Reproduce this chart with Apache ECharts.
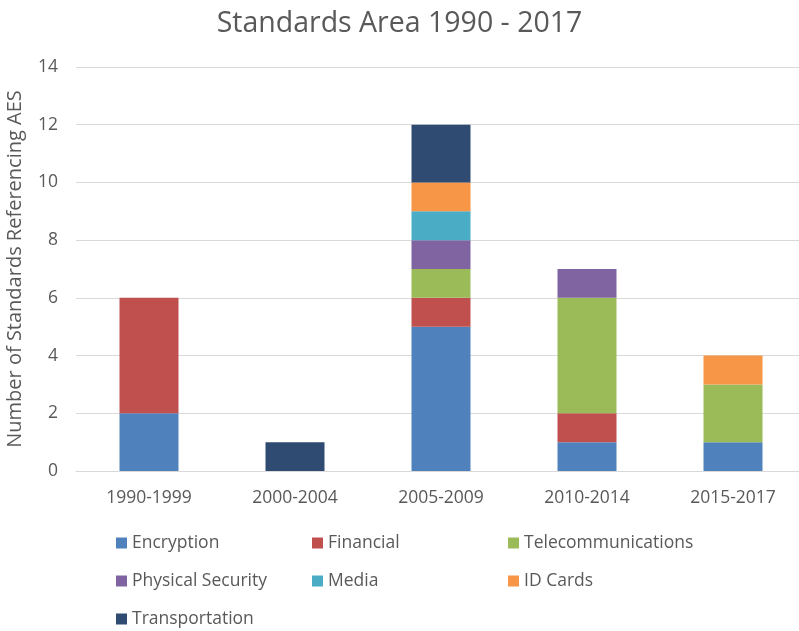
<!DOCTYPE html>
<html>
<head>
<meta charset="utf-8">
<script src="https://cdn.jsdelivr.net/npm/echarts@6/dist/echarts.min.js"></script>
<style>
  html, body { margin: 0; padding: 0; background: #fff; }
  #chart { width: 799px; height: 631px; }
</style>
</head>
<body>
<div id="chart"></div>
<script>
// Standards referencing AES, grouped by period and application area
const periods = ['1990-1999', '2000-2004', '2005-2009', '2010-2014', '2015-2017'];
const encryption       = [2, 0, 5, 1, 1];
const financial        = [4, 0, 1, 1, 0];
const telecommunications = [0, 0, 1, 4, 2];
const physicalSecurity = [0, 0, 1, 1, 0];
const media            = [0, 0, 1, 0, 0];
const idCards          = [0, 0, 1, 0, 1];
const transportation   = [0, 1, 2, 0, 0];
const yTicks = [0, 2, 4, 6, 8, 10, 12, 14];

const FONT = '"Open Sans", "Noto Sans", sans-serif';
const TEXT = '#595959';

const seriesDefs = [
  { name: 'Encryption', data: encryption, color: '#4F81BD' },
  { name: 'Financial', data: financial, color: '#C0504D' },
  { name: 'Telecommunications', data: telecommunications, color: '#9BBB59' },
  { name: 'Physical Security', data: physicalSecurity, color: '#8064A2' },
  { name: 'Media', data: media, color: '#4BACC6' },
  { name: 'ID Cards', data: idCards, color: '#F79646' },
  { name: 'Transportation', data: transportation, color: '#2F4B72' }
];

// Legend laid out as a three-column grid
const legendCols = [116, 312, 508];
const legendRows = [534, 572, 610];
const legends = seriesDefs.map((s, i) => ({
  data: [s.name],
  left: legendCols[i % 3],
  top: legendRows[Math.floor(i / 3)],
  icon: 'rect',
  itemWidth: 11,
  itemHeight: 11,
  itemGap: 0,
  padding: 0,
  textStyle: { fontFamily: FONT, fontSize: 17.5, color: TEXT },
  selectedMode: false
}));

const chart = echarts.init(document.getElementById('chart'), null, { renderer: 'canvas' });
chart.setOption({
  animation: false,
  backgroundColor: '#fff',
  title: {
    text: 'Standards Area 1990 - 2017',
    left: 'center',
    top: 4,
    textStyle: { fontFamily: FONT, fontSize: 28.5, fontWeight: 'normal', color: TEXT }
  },
  legend: legends,
  // plot area runs slightly past the right edge of the canvas
  grid: { left: 76, width: 730, top: 67, bottom: 160, containLabel: false, outerBoundsMode: 'none' },
  xAxis: {
    type: 'category',
    data: periods,
    axisLine: { lineStyle: { color: '#d9d9d9', width: 1 } },
    axisTick: { show: false },
    axisLabel: { fontFamily: FONT, fontSize: 17.5, color: TEXT, margin: 18 }
  },
  yAxis: {
    type: 'value',
    min: yTicks[0],
    max: yTicks[yTicks.length - 1],
    interval: 2,
    name: 'Number of Standards Referencing AES',
    nameLocation: 'middle',
    nameGap: 51,
    nameRotate: 90,
    nameTextStyle: { fontFamily: FONT, fontSize: 20, color: TEXT },
    axisLine: { show: false },
    axisTick: { show: false },
    splitLine: { lineStyle: { color: '#d9d9d9', width: 1 } },
    axisLabel: { fontFamily: FONT, fontSize: 17.5, color: TEXT, margin: 18 }
  },
  series: seriesDefs.map(s => ({
    name: s.name,
    type: 'bar',
    stack: 'total',
    barWidth: 59,
    data: s.data.map(v => (v === 0 ? null : v)),
    itemStyle: { color: s.color }
  }))
});
</script>
</body>
</html>
